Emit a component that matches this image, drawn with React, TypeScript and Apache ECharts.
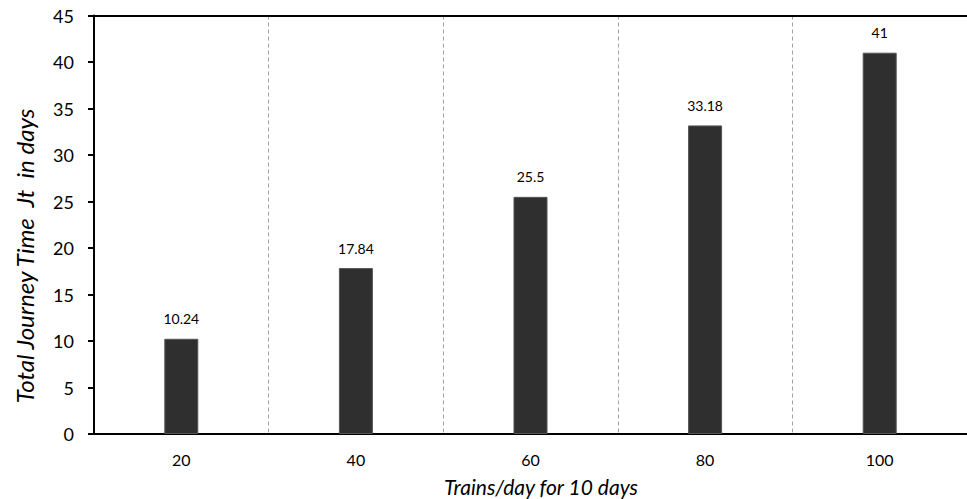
import React, { useEffect, useRef } from "react";
import * as echarts from "echarts";

const categories = ["20", "40", "60", "80", "100"];
const journeyTimes = [10.24, 17.84, 25.5, 33.18, 41];
const yTicks = { min: 0, max: 45, interval: 5 };
const xTitle = "Trains/day for 10 days";
const yTitle = "Total Journey Time  Jt  in days";

const FONT = "Lato, 'Open Sans', sans-serif";

export default function App() {
  const ref = useRef<HTMLDivElement>(null);
  useEffect(() => {
    if (!ref.current) return;
    const chart = echarts.init(ref.current, null, { renderer: "svg" });
    chart.setOption({
      animation: false,
      backgroundColor: "#ffffff",
      grid: { left: 94, right: -5, top: 15.5, bottom: 65, containLabel: false },
      xAxis: [
        {
          type: "category",
          data: categories,
          axisLine: { show: true, lineStyle: { color: "#000", width: 2 } },
          axisTick: { show: false },
          axisLabel: { color: "#000", fontSize: 16, fontFamily: FONT, margin: 17 },
          splitLine: {
            show: true,
            lineStyle: { color: "#a0a0a0", type: [4, 3], width: 1 },
          },
        },
        {
          type: "category",
          position: "top",
          data: categories,
          axisLine: { show: true, lineStyle: { color: "#000", width: 2 } },
          axisTick: { show: false },
          axisLabel: { show: false },
          splitLine: { show: false },
        },
      ],
      yAxis: {
        type: "value",
        min: yTicks.min,
        max: yTicks.max,
        interval: yTicks.interval,
        axisLine: { show: true, lineStyle: { color: "#000", width: 2 } },
        axisTick: { show: true, length: 6, lineStyle: { color: "#000", width: 2 } },
        axisLabel: { color: "#000", fontSize: 18, fontFamily: FONT, margin: 20 },
        splitLine: { show: false },
      },
      series: [
        {
          type: "bar",
          data: journeyTimes,
          barWidth: 34,
          itemStyle: { color: "#2f2f2f", borderColor: "#555", borderWidth: 1 },
          label: {
            show: true,
            position: "top",
            distance: 13,
            color: "#000",
            fontSize: 14,
            fontFamily: FONT,
          },
        },
      ],
      graphic: [
        {
          type: "text",
          x: 24,
          y: 256,
          rotation: Math.PI / 2,
          style: {
            text: yTitle,
            fontSize: 24,
            fontStyle: "italic",
            fontFamily: FONT,
            fill: "#000",
            align: "center",
            verticalAlign: "middle",
          },
        },
        {
          type: "text",
          x: 541,
          y: 486,
          style: {
            text: xTitle,
            fontSize: 21,
            fontStyle: "italic",
            fontFamily: FONT,
            fill: "#000",
            align: "center",
            verticalAlign: "middle",
          },
        },
      ],
    });
    return () => chart.dispose();
  }, []);
  return <div ref={ref} style={{ width: 967, height: 499, position: "absolute", left: 0, top: 0 }} />;
}
